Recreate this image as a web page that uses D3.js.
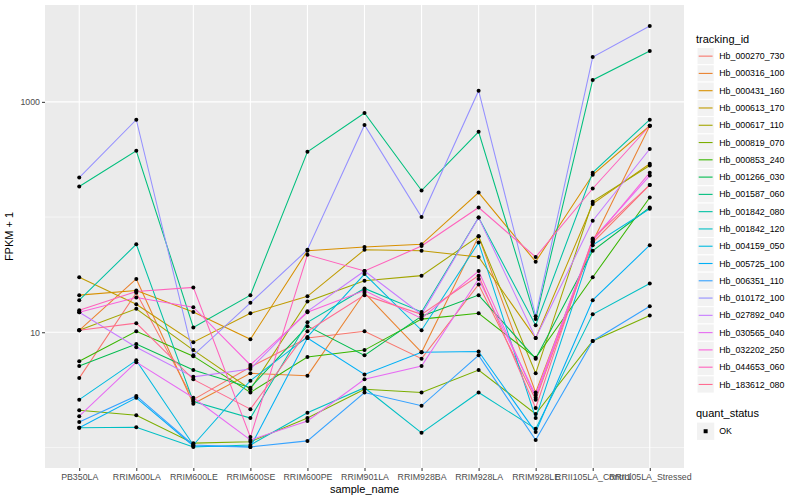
<!DOCTYPE html>
<html>
<head>
<meta charset="utf-8">
<script src="https://cdn.jsdelivr.net/npm/d3@7"></script>
<style>
  body { margin: 0; background: #fff; }
  text { font-family: "Liberation Sans", Arial, Helvetica, sans-serif; }
</style>
</head>
<body>
<svg width="800" height="500"></svg>
<script>
// sample names on the x axis
var samples = ["PB350LA","RRIM600LA","RRIM600LE","RRIM600SE","RRIM600PE","RRIM901LA",
  "RRIM928BA","RRIM928LA","RRIM928LE","RRII105LA_Control","RRII105LA_Stressed"];

var trackingIds = ["Hb_000270_730","Hb_000316_100","Hb_000431_160","Hb_000613_170","Hb_000617_110",
  "Hb_000819_070","Hb_000853_240","Hb_001266_030","Hb_001587_060","Hb_001842_080","Hb_001842_120",
  "Hb_004159_050","Hb_005725_100","Hb_006351_110","Hb_010172_100","Hb_027892_040","Hb_030565_040",
  "Hb_032202_250","Hb_044653_060","Hb_183612_080"];

// ggplot default hue palette for 20 levels
var palette = ["#F8766D","#EA8331","#D89000","#C09B00","#A3A500","#7CAE00","#39B600","#00BB4E",
  "#00BF7D","#00C1A3","#00BFC4","#00BAE0","#00B0F6","#35A2FF","#9590FF","#C77CFF","#E76BF3",
  "#FA62DB","#FF62BC","#FF6C91"];

// FPKM + 1, one array per tracking id, in sample order
var hb_000270_730 = [4.0, 22, 2.6, 5.0, 8.9, 10.2, 5.9, 26, 2.6, 60, 190];
var hb_000316_100 = [10.4, 29, 2.4, 4.4, 4.2, 22, 6.7, 68, 3.0, 61, 620];
var hb_000431_160 = [21, 23, 15, 8.7, 51, 55, 58, 163, 41, 233, 620];
var hb_000613_170 = [30, 17.5, 8.2, 14.6, 20.5, 52, 51, 45, 8.9, 130, 290];
var hb_000617_110 = [10.4, 16, 7.0, 3.2, 18.5, 28, 31, 68, 4.4, 136, 280];
var hb_000819_070 = [2.1, 1.9, 1.09, 1.12, 1.8, 3.2, 3.0, 4.7, 1.95, 8.4, 14];
var hb_000853_240 = [5.6, 10.2, 6.2, 3.0, 6.1, 7.0, 13, 14.6, 6.0, 30, 148];
var hb_001266_030 = [5.1, 7.9, 4.7, 3.3, 11.3, 6.3, 13.8, 21, 5.9, 51, 121];
var hb_001587_060 = [184, 376, 11, 21, 369, 800, 170, 550, 13, 1550, 2760];
var hb_001842_080 = [19, 58, 2.5, 1.8, 12.2, 24, 15, 99, 11.5, 243, 700];
var hb_001842_120 = [1.48, 1.5, 1.01, 1.05, 2.0, 3.3, 1.34, 3.0, 1.45, 14.3, 26.5];
var hb_004159_050 = [2.6, 5.7, 1.05, 3.8, 9.1, 32, 10.4, 60, 1.8, 57, 118];
var hb_005725_100 = [1.48, 2.7, 1.03, 1.01, 8.9, 4.3, 6.7, 6.8, 1.36, 19, 57];
var hb_006351_110 = [1.66, 2.8, 1.05, 1.01, 1.14, 3.0, 2.3, 6.3, 1.16, 8.4, 16.8];
var hb_010172_100 = [220, 700, 6.3, 18, 52, 630, 100, 1250, 13.8, 2450, 4550];
var hb_027892_040 = [14.9, 7.4, 4.1, 4.8, 15.2, 34, 14.3, 99, 8.9, 93, 390];
var hb_030565_040 = [1.87, 5.5, 2.7, 1.16, 1.7, 3.9, 5.1, 29, 2.85, 64, 229];
var hb_032202_250 = [14.9, 20, 16.5, 5.2, 14.9, 23, 13.2, 34, 2.7, 62, 243];
var hb_044653_060 = [15.5, 22.6, 24.5, 1.23, 47, 34, 56, 121, 45, 177, 620];
var hb_183612_080 = [10.4, 12, 3.9, 2.15, 10.2, 21, 14.3, 31, 2.2, 65, 190];

var yTicks = [10, 1000];
var yMinor = [1, 100];

var values = [hb_000270_730, hb_000316_100, hb_000431_160, hb_000613_170, hb_000617_110,
  hb_000819_070, hb_000853_240, hb_001266_030, hb_001587_060, hb_001842_080, hb_001842_120,
  hb_004159_050, hb_005725_100, hb_006351_110, hb_010172_100, hb_027892_040, hb_030565_040,
  hb_032202_250, hb_044653_060, hb_183612_080];

var series = trackingIds.map(function(id, i) {
  return { id: id, pts: values[i].map(function(v, j) { return { s: samples[j], v: v }; }) };
});

var color = d3.scaleOrdinal().domain(trackingIds).range(palette);

var svg = d3.select("svg");
var pLeft = 45, pRight = 684, pTop = 5, pBottom = 468;

var x = d3.scalePoint().domain(samples).range([pLeft, pRight]).padding(0.6);

// log scale with ggplot's 5% expansion
var all = d3.merge(values);
var lo = Math.log10(d3.min(all)), hi = Math.log10(d3.max(all));
var pad = (hi - lo) * 0.05;
var y = d3.scaleLog().domain([Math.pow(10, lo - pad), Math.pow(10, hi + pad)]).range([pBottom, pTop]);

// panel
svg.append("rect").attr("x", pLeft).attr("y", pTop).attr("width", pRight - pLeft).attr("height", pBottom - pTop)
  .attr("fill", "#EBEBEB");

svg.append("g").selectAll("line").data(yMinor).enter().append("line")
  .attr("x1", pLeft).attr("x2", pRight).attr("y1", d => y(d)).attr("y2", d => y(d))
  .attr("stroke", "#fff").attr("stroke-width", 0.55);
svg.append("g").selectAll("line").data(yTicks).enter().append("line")
  .attr("x1", pLeft).attr("x2", pRight).attr("y1", d => y(d)).attr("y2", d => y(d))
  .attr("stroke", "#fff").attr("stroke-width", 1.1);
svg.append("g").selectAll("line").data(samples).enter().append("line")
  .attr("y1", pTop).attr("y2", pBottom).attr("x1", d => x(d)).attr("x2", d => x(d))
  .attr("stroke", "#fff").attr("stroke-width", 1.1);

// lines
var line = d3.line().x(d => x(d.s)).y(d => y(d.v));
svg.append("g").selectAll("path").data(series).enter().append("path")
  .attr("d", d => line(d.pts))
  .attr("fill", "none")
  .attr("stroke", d => color(d.id))
  .attr("stroke-width", 1.05);

// points
svg.append("g").selectAll("circle").data(d3.merge(series.map(d => d.pts))).enter().append("circle")
  .attr("cx", d => x(d.s)).attr("cy", d => y(d.v)).attr("r", 2).attr("fill", "#000");

// axes
var xAxis = svg.append("g").attr("transform", "translate(0," + pBottom + ")")
  .call(d3.axisBottom(x).tickSize(3).tickPadding(3));
var yAxis = svg.append("g").attr("transform", "translate(" + pLeft + ",0)")
  .call(d3.axisLeft(y).tickValues(yTicks).tickFormat(d3.format("d")).tickSize(3).tickPadding(2));
[xAxis, yAxis].forEach(function(a) {
  a.select(".domain").remove();
  a.selectAll(".tick line").attr("stroke", "#333");
  a.selectAll(".tick text").attr("fill", "#4D4D4D").style("font-size", "8.8px");
});

svg.append("text").attr("x", (pLeft + pRight) / 2).attr("y", 493).attr("text-anchor", "middle")
  .style("font-size", "11px").text("sample_name");
svg.append("text").attr("transform", "translate(13," + (pTop + pBottom) / 2 + ") rotate(-90)")
  .attr("text-anchor", "middle").style("font-size", "11px").text("FPKM + 1");

// legend: tracking_id
var lg = svg.append("g").attr("transform", "translate(697,0)");
lg.append("text").attr("x", -1).attr("y", 43).style("font-size", "11px").text("tracking_id");
var key = 17.28, k0 = 47.5;
var items = lg.selectAll("g.item").data(trackingIds).enter().append("g")
  .attr("transform", (d, i) => "translate(0," + (k0 + i * key) + ")");
items.append("rect").attr("width", key).attr("height", key).attr("fill", "#F2F2F2")
  .attr("stroke", "#fff").attr("stroke-width", 1);
items.append("line").attr("x1", 1.7).attr("x2", key - 1.7).attr("y1", key / 2).attr("y2", key / 2)
  .attr("stroke", d => color(d)).attr("stroke-width", 1.1);
items.append("text").attr("x", key + 5).attr("y", key / 2).attr("dy", "0.35em")
  .style("font-size", "8.8px").text(d => d);

// legend: quant_status
var qy = k0 + trackingIds.length * key + 24;
lg.append("text").attr("x", -1).attr("y", qy).style("font-size", "11px").text("quant_status");
var q = lg.append("g").attr("transform", "translate(0," + (qy + 5.5) + ")");
q.append("rect").attr("width", key).attr("height", key).attr("fill", "#F2F2F2");
q.append("rect").attr("x", key / 2 - 2).attr("y", key / 2 - 2).attr("width", 4).attr("height", 4).attr("fill", "#000");
q.append("text").attr("x", key + 5).attr("y", key / 2).attr("dy", "0.35em").style("font-size", "8.8px").text("OK");
</script>
</body>
</html>
